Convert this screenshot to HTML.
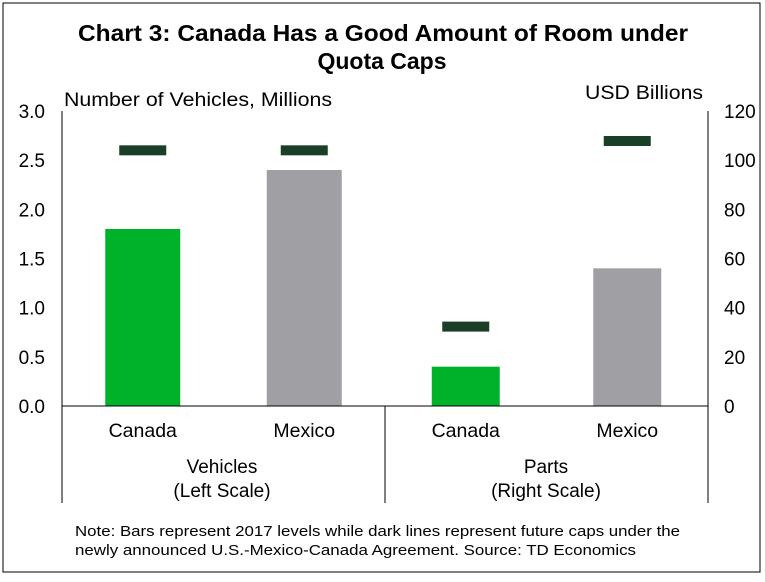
<!DOCTYPE html>
<html><head><meta charset="utf-8"><style>
body{margin:0;background:#fff;font-family:"Liberation Sans",Arial,sans-serif}
svg text{font-family:"Liberation Sans",Arial,sans-serif}
</style></head><body>
<svg width="765" height="577">
<rect x="3" y="3" width="757" height="569" fill="#fff" stroke="#000" stroke-width="1"/>
<text x="78" y="41" textLength="610" lengthAdjust="spacingAndGlyphs" font-size="23" font-weight="bold">Chart 3: Canada Has a Good Amount of Room under</text>
<text x="382" y="69" text-anchor="middle" font-size="23" font-weight="bold">Quota Caps</text>
<text x="64" y="106" textLength="268" lengthAdjust="spacingAndGlyphs" font-size="19">Number of Vehicles, Millions</text>
<text x="585" y="99" textLength="118" lengthAdjust="spacingAndGlyphs" font-size="19">USD Billions</text>
<g id="g"></g>
<text x="222" y="473" text-anchor="middle" font-size="19">Vehicles</text>
<text x="222" y="497" text-anchor="middle" font-size="19">(Left Scale)</text>
<text x="546" y="473" text-anchor="middle" font-size="19">Parts</text>
<text x="546" y="497" text-anchor="middle" font-size="19">(Right Scale)</text>
<text x="75" y="536" textLength="605" lengthAdjust="spacingAndGlyphs" font-size="15">Note: Bars represent 2017 levels while dark lines represent future caps under the</text>
<text x="75" y="555" textLength="561" lengthAdjust="spacingAndGlyphs" font-size="15">newly announced U.S.-Mexico-Canada Agreement. Source: TD Economics</text>
</svg>
<script>
const categories=["Canada","Mexico","Canada","Mexico"];
const axisSide=["left","left","right","right"];
const barValues=[1.8,2.4,16,56];
const capValues=[2.6,2.6,32.3,107.8];
const leftTicks=["0.0","0.5","1.0","1.5","2.0","2.5","3.0"];
const rightTicks=["0","20","40","60","80","100","120"];
const NS="http://www.w3.org/2000/svg",g=document.getElementById('g');
const y0=406,yTop=111,xL=62,xR=708;
const yLeft=v=>y0-(v/3)*(y0-yTop);
const yRight=v=>y0-(v/120)*(y0-yTop);
function mk(t,a){const e=document.createElementNS(NS,t);for(const k in a)e.setAttribute(k,a[k]);g.appendChild(e);return e;}
const band=(xR-xL)/4;
const colors=["#00b22a","#a09fa4","#00b22a","#a09fa4"];
categories.forEach((c,i)=>{
 const sc=axisSide[i]==="left"?yLeft:yRight;
 const cx=xL+band*(i+0.5);
 const w=i<2?75:68;
 const y=sc(barValues[i]);
 const b=mk('rect',{x:cx-w/2,y:y,width:w,height:y0-y,fill:colors[i]});
 
 
 const cy=sc(capValues[i]);
 const cp=mk('rect',{x:cx-23.5,y:cy-5,width:47,height:10,fill:"#1a3f27"});
 
 
 const t=mk('text',{x:cx,y:437,'text-anchor':'middle','font-size':19.5});
 t.textContent=c;
 
 
});
leftTicks.forEach((s,i)=>{
 const t=mk('text',{x:45,y:yLeft(i*0.5)+7,'text-anchor':'end','font-size':19});t.textContent=s;
 
 
});
rightTicks.forEach((s,i)=>{
 const t=mk('text',{x:724,y:yRight(i*20)+7,'font-size':19});t.textContent=s;
 
 
});
[[xL,yTop,xL,503],[xR,yTop,xR,503],[385,y0,385,503],[xL,y0,xR,y0]].forEach(a=>{
 const l=mk('line',{x1:a[0],y1:a[1],x2:a[2],y2:a[3],stroke:'#000','stroke-width':1});
 
 
});
</script>
</body></html>
